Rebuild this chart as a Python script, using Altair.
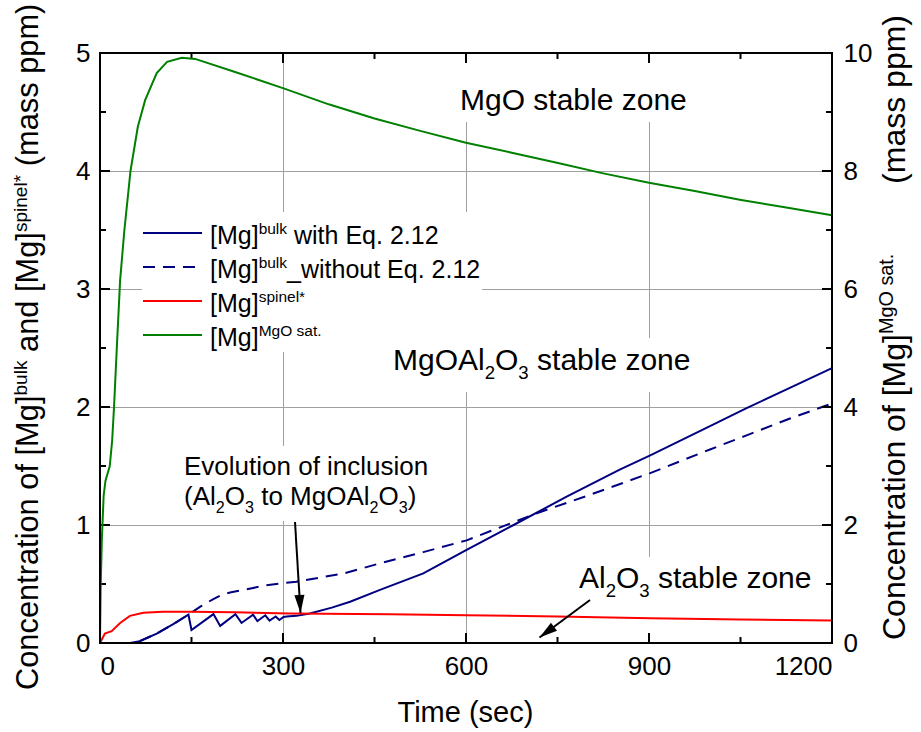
import math
import altair as alt
import pandas as pd

# ---------------------------------------------------------------- data
time_green = [0, 1, 3, 6, 9, 16, 20, 23, 28, 33, 40, 50, 62, 74, 93, 110, 134, 156,
              224, 301, 375, 450, 525, 600, 675, 749, 825, 900, 975, 1051, 1125, 1200]
mg_mgo_sat = [0, 0.9, 1.75, 2.5, 2.75, 3.0, 3.44, 4.0, 5.1, 6.15, 7.0, 8.0, 8.75, 9.2, 9.66, 9.85, 9.92, 9.9,
              9.67, 9.40, 9.13, 8.89, 8.68, 8.48, 8.31, 8.14, 7.96, 7.80, 7.66, 7.51, 7.38, 7.25]

time_bulk = [0, 50, 65, 93, 120, 145, 150, 186, 197, 222, 232, 251, 258, 271, 278, 288, 294, 301,
             306, 322, 344, 380, 410, 459, 530, 601, 678, 765, 852, 902, 1005, 1060, 1130, 1200]
mg_bulk_eq = [0, 0, 0.015, 0.08, 0.16, 0.24, 0.11, 0.245, 0.145, 0.245, 0.17, 0.24, 0.185, 0.235, 0.19, 0.225,
              0.195, 0.22, 0.225, 0.23, 0.25, 0.30, 0.35, 0.45, 0.59, 0.79, 1.0, 1.24, 1.47, 1.59, 1.85, 1.99, 2.16, 2.33]

time_bulk_no = [0, 50, 65, 93, 120, 145, 165, 185, 200, 215, 245, 273, 322, 400, 459, 530, 601,
                716, 800, 902, 1000, 1060, 1130, 1200]
mg_bulk_no_eq = [0, 0, 0.015, 0.08, 0.16, 0.24, 0.31, 0.37, 0.41, 0.43, 0.46, 0.49, 0.52, 0.59, 0.675, 0.77, 0.87,
                 1.10, 1.25, 1.44, 1.64, 1.76, 1.90, 2.03]

time_spinel = [0, 4, 8, 19, 33, 49, 71, 103, 148, 220, 311, 475, 600, 750, 902, 1050, 1200]
mg_spinel = [0, 0.04, 0.08, 0.10, 0.17, 0.23, 0.257, 0.265, 0.265, 0.26, 0.25, 0.243, 0.235, 0.225, 0.21, 0.20, 0.19]

x_major = [0, 300, 600, 900, 1200]
x_minor = [150, 450, 750, 1050]
y_left_major = [0, 1, 2, 3, 4, 5]
y_left_minor = [0.5, 1.5, 2.5, 3.5, 4.5]
y_right_labels = [0, 2, 4, 6, 8, 10]

# ---------------------------------------------------------------- layout
W, H = 732, 590
T_MAX, V_MAX, V2_MAX = 1200, 5.0, 10.0
S_PER_PX = T_MAX / W
V_PER_PX = V_MAX / H
FONT = "Liberation Sans"
NAVY, RED, GREEN = "#000080", "#ff0000", "#008000"
GRID = "#a0a0a0"

xs = alt.Scale(domain=[0, T_MAX], nice=False, zero=False)
ys = alt.Scale(domain=[0, V_MAX], nice=False, zero=False)
ys2 = alt.Scale(domain=[0, V2_MAX], nice=False, zero=False)

# Helvetica/Arial advance widths (1/1000 em) for laying out rich text runs
ADV = {' ': 278, '(': 333, ')': 333, '*': 389, '.': 278, '[': 278, ']': 278, '_': 556,
       'A': 667, 'C': 722, 'E': 667, 'M': 833, 'O': 778, 'T': 611,
       'a': 556, 'b': 556, 'c': 500, 'd': 556, 'e': 556, 'f': 278, 'g': 556, 'h': 556,
       'i': 222, 'k': 500, 'l': 222, 'm': 833, 'n': 556, 'o': 556, 'p': 556, 'q': 556,
       'r': 333, 's': 500, 't': 278, 'u': 556, 'v': 500, 'w': 722, 'z': 500}


def adv(s, size):
    return sum(ADV.get(c, 556) for c in s) * size / 1000.0


def rich(parts, t0, v0, size, vertical=False, ratio=0.62, sup=0.37, sub=0.30):
    """Split a label with super/subscripts into positioned text runs."""
    rows, cursor = [], 0.0
    for txt, kind in parts:
        fs = size if kind == "n" else size * ratio
        off = 0.0 if kind == "n" else (sup * size if kind == "sup" else -sub * size)
        body = txt.lstrip(" ")
        lead = adv(txt[:len(txt) - len(body)], fs)
        pos = cursor + lead
        if vertical:
            rows.append(dict(t=t0 - off * S_PER_PX, v=v0 + pos * V_PER_PX, text=body.rstrip(" "), fs=fs))
        else:
            rows.append(dict(t=t0 + pos * S_PER_PX, v=v0 + off * V_PER_PX, text=body.rstrip(" "), fs=fs))
        cursor += adv(txt, fs)
    return rows


def px_t(x):
    return (x - 100) * S_PER_PX


def px_v(y):
    return (643 - y) * V_PER_PX


# ---------------------------------------------------------------- series tables
bulk = pd.DataFrame({"t": time_bulk, "v": mg_bulk_eq})
bulk_no = pd.DataFrame({"t": time_bulk_no, "v": mg_bulk_no_eq})
spinel = pd.DataFrame({"t": time_spinel, "v": mg_spinel})
mgo = pd.DataFrame({"t": time_green, "v": mg_mgo_sat})

# white backgrounds behind the text blocks
boxes = pd.DataFrame([
    dict(t1=px_t(142), t2=px_t(482), v1=px_v(212), v2=px_v(352)),
    dict(t1=px_t(388), t2=px_t(702), v1=px_v(338), v2=px_v(392)),
    dict(t1=px_t(178), t2=px_t(437), v1=px_v(446), v2=px_v(521)),
    dict(t1=px_t(574), t2=px_t(818), v1=px_v(557), v2=px_v(637)),
    dict(t1=px_t(455), t2=px_t(696), v1=px_v(57), v2=px_v(122)),
])

# legend
leg_rows = [233, 267, 301, 335]
leg_items = [
    ([("[Mg]", "n"), ("bulk", "sup"), (" with Eq. 2.12", "n")], NAVY, []),
    ([("[Mg]", "n"), ("bulk", "sup"), ("_without Eq. 2.12", "n")], NAVY, [12, 8]),
    ([("[Mg]", "n"), ("spinel*", "sup")], RED, []),
    ([("[Mg]", "n"), ("MgO sat.", "sup")], GREEN, []),
]

texts = []
leg_lines = []
for y, (parts, col, dash) in zip(leg_rows, leg_items):
    texts += rich(parts, px_t(210), px_v(y + 10.5), 25)
    leg_lines.append(dict(t1=px_t(143), t2=px_t(202), v=px_v(y), col=col, dash=len(dash) > 0))
leg_lines = pd.DataFrame(leg_lines)

texts += rich([("MgO stable zone", "n")], px_t(460), px_v(110), 30)
texts += rich([("MgOAl", "n"), ("2", "sub"), ("O", "n"), ("3", "sub"), (" stable zone", "n")],
              px_t(393), px_v(370), 30)
texts += rich([("Evolution of inclusion", "n")], px_t(184), px_v(475), 26)
texts += rich([("(Al", "n"), ("2", "sub"), ("O", "n"), ("3", "sub"), (" to MgOAl", "n"), ("2", "sub"),
               ("O", "n"), ("3", "sub"), (")", "n")], px_t(184), px_v(505), 26)
texts += rich([("Al", "n"), ("2", "sub"), ("O", "n"), ("3", "sub"), (" stable zone", "n")],
              px_t(579), px_v(588), 30)
time_title = "Time (sec)"
texts += rich([(time_title, "n")], T_MAX / 2 - adv(time_title, 29) / 2 * S_PER_PX, px_v(722), 29)
texts = pd.DataFrame(texts)

# rotated axis titles
vtexts = []
vtexts += rich([("Concentration of ", "n"), ("[Mg]", "n"), ("bulk", "sup"), (" and ", "n"), ("[Mg]", "n"),
                ("spinel*", "sup"), (" (mass ppm)", "n")], px_t(38), px_v(690), 30.8, vertical=True)
vtexts += rich([("Concentration of ", "n"), ("[Mg]", "n"), ("MgO sat.", "sup")],
               px_t(905), px_v(640), 32, vertical=True)
unit_label = "(mass ppm)"
vtexts += rich([(unit_label, "n")], px_t(905), px_v(15 + adv(unit_label, 32)), 32, vertical=True)
vtexts = pd.DataFrame(vtexts)

# annotation arrows: tail -> tip
arrows = pd.DataFrame([
    dict(t1=px_t(295), v1=px_v(522), t2=px_t(300.5), v2=px_v(613)),
    dict(t1=px_t(590), v1=px_v(600), t2=px_t(539.5), v2=px_v(637.5)),
])
arrows["ang"] = [
    (math.degrees(math.atan2((r.t2 - r.t1) / S_PER_PX, (r.v2 - r.v1) / V_PER_PX)) + 360) % 360
    for r in arrows.itertuples()
]

xt = pd.DataFrame({"t": x_major + x_minor, "major": [True] * len(x_major) + [False] * len(x_minor)})
yt = pd.DataFrame({"v": y_left_major + y_left_minor,
                   "major": [True] * len(y_left_major) + [False] * len(y_left_minor)})

# ---------------------------------------------------------------- axes (shared by every layer)
x_axis = alt.Axis(values=x_major, title=None, ticks=False, domain=False, grid=True, gridColor=GRID,
                  gridWidth=1, labelFont=FONT, labelFontSize=26, labelColor="black", labelPadding=10,
                  format="d")
y_axis = alt.Axis(values=y_left_major, title=None, ticks=False, domain=False, grid=True, gridColor=GRID,
                  gridWidth=1, labelFont=FONT, labelFontSize=26, labelColor="black", labelPadding=10,
                  format="d")


def X(f):
    return alt.X(f, type="quantitative", scale=xs, axis=x_axis)


def Y(f):
    return alt.Y(f, type="quantitative", scale=ys, axis=y_axis)


# ---------------------------------------------------------------- layers
box_layer = alt.Chart(boxes).mark_rect(fill="white", stroke=None).encode(
    x=X("t1"), x2="t2", y=Y("v1"), y2="v2")

line_bulk = alt.Chart(bulk).mark_line(color=NAVY, strokeWidth=2).encode(x=X("t"), y=Y("v"))
line_bulk_no = alt.Chart(bulk_no).mark_line(color=NAVY, strokeWidth=2, strokeDash=[12, 8]).encode(
    x=X("t"), y=Y("v"))
line_spinel = alt.Chart(spinel).mark_line(color=RED, strokeWidth=2).encode(x=X("t"), y=Y("v"))

leg_solid = alt.Chart(leg_lines).transform_filter("!datum.dash").mark_rule(strokeWidth=2).encode(
    x=X("t1"), x2="t2", y=Y("v"), color=alt.Color("col:N", scale=None))
leg_dash = alt.Chart(leg_lines).transform_filter("datum.dash").mark_rule(
    strokeWidth=2, strokeDash=[12, 8]).encode(x=X("t1"), x2="t2", y=Y("v"), color=alt.Color("col:N", scale=None))

arrow_shaft = alt.Chart(arrows).mark_rule(color="black", strokeWidth=2).encode(
    x=X("t1"), x2="t2", y=Y("v1"), y2="v2")
arrow_head = alt.Chart(arrows).mark_point(
    shape="M0,0L0.28,1L-0.28,1Z", filled=True, color="black", opacity=1, size=1300).encode(
    x=X("t2"), y=Y("v2"), angle=alt.Angle("ang:Q", scale=None))

text_h = alt.Chart(texts).mark_text(align="left", baseline="alphabetic", font=FONT, color="black").encode(
    x=X("t"), y=Y("v"), text="text:N", size=alt.Size("fs:Q", scale=None, legend=None))
text_v = alt.Chart(vtexts).mark_text(align="left", baseline="alphabetic", font=FONT, color="black",
                                     angle=270).encode(
    x=X("t"), y=Y("v"), text="text:N", size=alt.Size("fs:Q", scale=None, legend=None))

tick_layers = []
for L, flag in [(10, "datum.major"), (6, "!datum.major")]:
    tick_layers.append(alt.Chart(xt).transform_filter(flag).mark_rule(color="black", strokeWidth=2).encode(
        x=X("t"), y=alt.value(H), y2=alt.value(H - L)))
    tick_layers.append(alt.Chart(xt).transform_filter(flag).mark_rule(color="black", strokeWidth=2).encode(
        x=X("t"), y=alt.value(0), y2=alt.value(L)))
    tick_layers.append(alt.Chart(yt).transform_filter(flag).mark_rule(color="black", strokeWidth=2).encode(
        y=Y("v"), x=alt.value(0), x2=alt.value(L)))
    tick_layers.append(alt.Chart(yt).transform_filter(flag).mark_rule(color="black", strokeWidth=2).encode(
        y=Y("v"), x=alt.value(W), x2=alt.value(W - L)))

left = alt.layer(box_layer, line_bulk, line_bulk_no, line_spinel, leg_solid, leg_dash,
                 arrow_shaft, arrow_head, text_h, text_v, *tick_layers)

green = alt.Chart(mgo).mark_line(color=GREEN, strokeWidth=2).encode(
    x=X("t"),
    y=alt.Y("v:Q", scale=ys2, axis=alt.Axis(orient="right", values=y_right_labels, title=None, ticks=False,
                                            domain=False, grid=False, labelFont=FONT, labelFontSize=26,
                                            labelColor="black", labelPadding=11, format="d")))

frame = alt.Chart(pd.DataFrame({"k": [0]})).mark_rect(filled=False, stroke="black", strokeWidth=2).encode(
    x=alt.value(0), x2=alt.value(W), y=alt.value(0), y2=alt.value(H))

chart = alt.layer(left, green, frame).resolve_scale(y="independent").properties(
    width=W, height=H,
    padding={"left": 100, "top": 53, "right": 89, "bottom": 89},
    autosize=alt.AutoSizeParams(type="none"),
    background="white",
).configure_view(stroke=None)

chart.save("out.html", embed_options={"renderer": "svg", "actions": False})
